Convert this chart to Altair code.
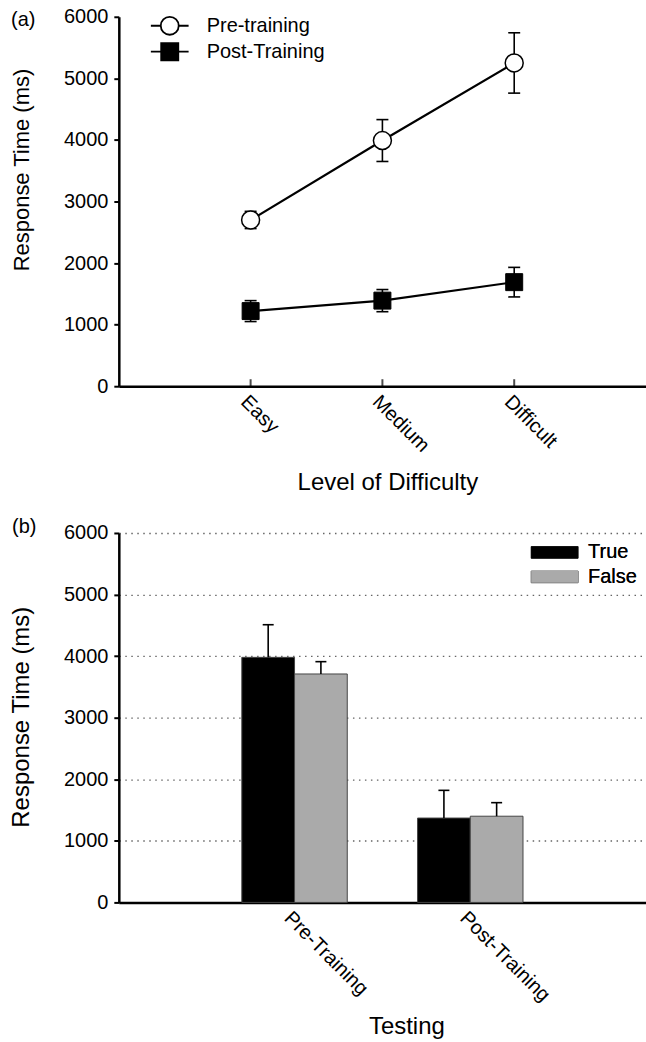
import altair as alt
import pandas as pd

FONT = "Liberation Sans"

# ---------------- Panel (a) data ----------------
levels = ["Easy", "Medium", "Difficult"]
phases = ["Pre-training", "Post-Training"]
pre_mean = [2700, 3990, 5250]
pre_err = [140, 340, 490]
post_mean = [1220, 1390, 1690]
post_err = [170, 180, 240]

# ---------------- Panel (b) data ----------------
testing = ["Pre-Training", "Post-Training"]
responses = ["True", "False"]
true_mean = [3980, 1370]
true_err = [530, 450]
false_mean = [3710, 1400]
false_err = [200, 220]

y_ticks = [0, 1000, 2000, 3000, 4000, 5000, 6000]

rows_a = []
for i, lv in enumerate(levels):
    rows_a.append({"Level": lv, "Phase": phases[0], "mean": pre_mean[i], "err": pre_err[i]})
    rows_a.append({"Level": lv, "Phase": phases[1], "mean": post_mean[i], "err": post_err[i]})
df_a = pd.DataFrame(rows_a)

rows_b = []
for i, t in enumerate(testing):
    rows_b.append({"Testing": t, "Response": responses[0], "mean": true_mean[i], "err": true_err[i]})
    rows_b.append({"Testing": t, "Response": responses[1], "mean": false_mean[i], "err": false_err[i]})
df_b = pd.DataFrame(rows_b)

W, H = 528, 370
ysc = alt.Scale(domain=[0, 6000], nice=False, zero=True)

# ---------------- Panel (a) ----------------
xsc_a = alt.Scale(type="point", domain=levels, padding=1)
xaxis_a = alt.Axis(
    title="Level of Difficulty", labelAngle=45, labelAlign="left", labelBaseline="top",
    labelPadding=5, ticks=False, domainWidth=2.5, labelFontSize=20,
    titleFontSize=24, titleFontWeight="normal", titleX=269, titleY=96,
    titleBaseline="middle", titleAlign="center")
yaxis_a = alt.Axis(
    values=y_ticks, format="d", title="Response Time (ms)", tickSize=5, tickWidth=2,
    labelPadding=6, domainWidth=2.5, grid=False, labelFontSize=20,
    titleX=-97, titleY=153, titleAngle=270, titleAlign="center", titleBaseline="middle",
    titleFontSize=22, titleFontWeight="normal")
x_a = alt.X("Level:N", scale=xsc_a, axis=xaxis_a, title="Level of Difficulty")


def ya(field):
    return alt.Y(field, scale=ysc, axis=yaxis_a, title="Response Time (ms)")


base_a = alt.Chart(df_a).transform_calculate(
    lo="datum.mean - datum.err", hi="datum.mean + datum.err")

line_a = base_a.mark_line(color="black", strokeWidth=2.2).encode(
    x=x_a, y=ya("mean:Q"), detail="Phase:N")
rule_a = base_a.mark_rule(color="black", strokeWidth=1.6).encode(
    x=x_a, y=ya("lo:Q"), y2="hi:Q")
caplo_a = base_a.mark_tick(orient="horizontal", size=12, thickness=1.6, color="black", opacity=1).encode(
    x=x_a, y=ya("lo:Q"))
caphi_a = base_a.mark_tick(orient="horizontal", size=12, thickness=1.6, color="black", opacity=1).encode(
    x=x_a, y=ya("hi:Q"))
pre_pts = alt.Chart(df_a).transform_filter(alt.datum.Phase == phases[0]).mark_point(
    shape="circle", filled=True, fill="white", stroke="black", strokeWidth=1.5,
    size=324, opacity=1).encode(x=x_a, y=ya("mean:Q"))
post_pts = alt.Chart(df_a).transform_filter(alt.datum.Phase == phases[1]).mark_point(
    shape="square", filled=True, fill="black", stroke="black", strokeWidth=1,
    size=289, opacity=1).encode(x=x_a, y=ya("mean:Q"))

circ_path = "M-2.1,0H-1A1,1,0,1,1,1,0A1,1,0,1,1,-1,0M1,0H2.1"
sq_path = "M-2.1,0H-0.95M-0.95,-0.95H0.95V0.95H-0.95ZM0.95,0H2.1"
leg_a = alt.Legend(title=None, orient="none", legendX=41, legendY=-1, labelFontSize=20,
                   labelFont=FONT, labelColor="black", labelOffset=27, rowPadding=0,
                   symbolSize=324, symbolStrokeWidth=1.8, symbolOpacity=1)
legend_layer_a = alt.Chart(df_a).mark_point(
    filled=True, strokeWidth=1.8, size=324, opacity=0).encode(
    x=x_a, y=ya("mean:Q"),
    shape=alt.Shape("Phase:N", scale=alt.Scale(domain=phases, range=[circ_path, sq_path]), legend=leg_a),
    fill=alt.Fill("Phase:N", scale=alt.Scale(domain=phases, range=["white", "black"]), legend=leg_a),
    stroke=alt.Stroke("Phase:N", scale=alt.Scale(domain=phases, range=["black", "black"]), legend=leg_a))

xticks_a = alt.Chart(pd.DataFrame({"Level": levels})).mark_tick(
    orient="vertical", size=7, thickness=2, color="black", yOffset=-3.5).encode(
    x=x_a, y=alt.YDatum(0, scale=ysc, axis=yaxis_a, title="Response Time (ms)"))

lab_a = alt.Chart(pd.DataFrame({"t": ["(a)"]})).mark_text(
    align="left", baseline="middle", fontSize=20, font=FONT, color="black").encode(
    x=alt.value(-108), y=alt.value(3), text="t:N")

panel_a = alt.layer(line_a, rule_a, caplo_a, caphi_a, pre_pts, post_pts,
                    legend_layer_a, xticks_a, lab_a).properties(width=W, height=H)

# ---------------- Panel (b) ----------------
xsc_b = alt.Scale(type="band", domain=testing, paddingInner=0.4, paddingOuter=0.7)
xaxis_b = alt.Axis(
    title="Testing", labelAngle=45, labelAlign="left", labelBaseline="top",
    labelPadding=5, ticks=False, domainWidth=2.5, labelFontSize=20,
    titleFontSize=24, titleFontWeight="normal", titleX=288, titleY=124,
    titleBaseline="middle", titleAlign="center")
yaxis_b = alt.Axis(
    values=y_ticks, format="d", title="Response Time (ms)", tickSize=5, tickWidth=2,
    labelPadding=6, domainWidth=2.5, grid=True, gridDash=[1.5, 4.5], gridColor="#666666",
    gridWidth=1.3, labelFontSize=20,
    titleX=-97, titleY=184, titleAngle=270, titleAlign="center", titleBaseline="middle",
    titleFontSize=24, titleFontWeight="normal")
x_b = alt.X("Testing:N", scale=xsc_b, axis=xaxis_b, title="Testing")
xo = alt.XOffset("Response:N", scale=alt.Scale(domain=responses, paddingInner=0, paddingOuter=0))


def yb(field):
    return alt.Y(field, scale=ysc, axis=yaxis_b, title="Response Time (ms)")


fill_b_scale = alt.Scale(domain=responses, range=["black", "#aaaaaa"])
leg_b = alt.Legend(title=None, orient="none", legendX=424, legendY=7, labelFontSize=20,
                   labelFont=FONT, labelColor="black", labelOffset=21, rowPadding=1.5,
                   symbolType="M-2,-0.5H2V0.5H-2Z", symbolSize=552,
                   symbolStrokeWidth=1, symbolOpacity=1)

base_b = alt.Chart(df_b).transform_calculate(hi="datum.mean + datum.err")
bars_b = base_b.mark_bar(stroke="#444444", strokeWidth=1).encode(
    x=x_b, xOffset=xo, y=yb("mean:Q"),
    fill=alt.Fill("Response:N", scale=fill_b_scale, legend=None))
legend_layer_b = base_b.mark_point(
    filled=True, strokeWidth=1, size=552, opacity=0).encode(
    x=x_b, xOffset=xo, y=yb("mean:Q"),
    fill=alt.Fill("Response:N", scale=fill_b_scale, legend=leg_b),
    stroke=alt.Stroke("Response:N", scale=alt.Scale(domain=responses, range=["#222222", "#555555"]), legend=leg_b))
rule_b = base_b.mark_rule(color="black", strokeWidth=1.6).encode(
    x=x_b, xOffset=xo, y=yb("mean:Q"), y2="hi:Q")
cap_b = base_b.mark_tick(orient="horizontal", size=11, thickness=1.6, color="black", opacity=1).encode(
    x=x_b, xOffset=xo, y=yb("hi:Q"))

lab_b = alt.Chart(pd.DataFrame({"t": ["(b)"]})).mark_text(
    align="left", baseline="middle", fontSize=20, font=FONT, color="black").encode(
    x=alt.value(-107), y=alt.value(-6), text="t:N")

panel_b = alt.layer(bars_b, rule_b, cap_b, legend_layer_b, lab_b).resolve_scale(
    fill="independent").properties(width=W, height=H)

chart = alt.vconcat(panel_a, panel_b, spacing=147, bounds="flush").resolve_scale(
    fill="independent", shape="independent", stroke="independent"
).properties(
    padding={"left": 10, "top": 6, "right": 0, "bottom": 0}
).configure_view(stroke=None).configure_axis(
    labelFont=FONT, titleFont=FONT, labelColor="black", titleColor="black",
    domainColor="black", tickColor="black"
).configure_legend(labelFont=FONT)

chart.save("out.html", embed_options={"renderer": "svg", "actions": False})
